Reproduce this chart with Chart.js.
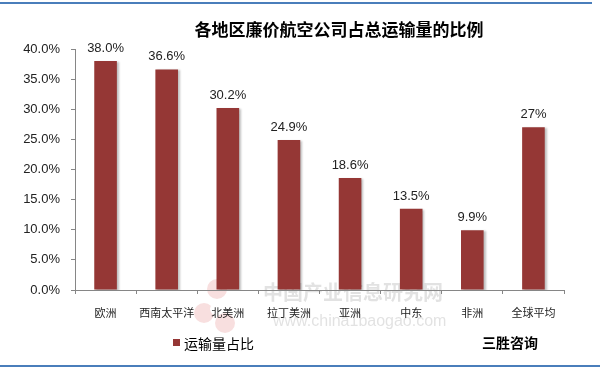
<!DOCTYPE html>
<html>
<head>
<meta charset="utf-8">
<script src="https://cdn.jsdelivr.net/npm/chart.js@4"></script>
<style>
  body { margin: 0; background: #fff; }
  #wrap { width: 600px; height: 371px; }
</style>
</head>
<body>
<div id="wrap"><canvas id="stage" width="600" height="371"></canvas></div>
<script>
// 各地区
const regions = ['欧洲', '西南太平洋', '北美洲', '拉丁美洲', '亚洲', '中东', '非洲', '全球平均'];
// 运输量占比 (%)
const shares = [38.0, 36.6, 30.2, 24.9, 18.6, 13.5, 9.9, 27];
const shareLabels = ['38.0%', '36.6%', '30.2%', '24.9%', '18.6%', '13.5%', '9.9%', '27%'];
const yTicks = [0, 5, 10, 15, 20, 25, 30, 35, 40];

const titleText = '各地区廉价航空公司占总运输量的比例';
const legendText = '运输量占比';
const sourceText = '三胜咨询';

const barColor = '#953735';
const latin = "'Liberation Sans', Arial, 'Noto Sans CJK SC', sans-serif";
const cjk = "'Noto Sans CJK SC', sans-serif";

// 枠・タイトル・凡例など
const decor = {
  id: 'decor',
  beforeDraw(chart) {
    const ctx = chart.ctx;
    ctx.save();
    ctx.fillStyle = '#fff';
    ctx.fillRect(0, 0, chart.width, chart.height);
    // blue rules
    ctx.fillStyle = '#4a7ebb';
    ctx.fillRect(0, 2, 592, 2);
    ctx.fillRect(0, 365, 600, 2);
    // watermark
    ctx.fillStyle = 'rgba(225,110,110,0.22)';
    [[217, 289, 10], [204, 313, 10], [225, 323, 10]].forEach(c => {
      ctx.beginPath(); ctx.arc(c[0], c[1], c[2], 0, Math.PI * 2); ctx.fill();
    });
    ctx.fillStyle = '#fff';
    ctx.beginPath(); ctx.arc(216, 309, 6, 0, Math.PI * 2); ctx.fill();
    ctx.fillStyle = 'rgba(150,150,150,0.28)';
    ctx.font = 'bold 20px ' + cjk;
    ctx.textAlign = 'left';
    ctx.textBaseline = 'middle';
    ctx.fillText('中国产业信息研究网', 263, 292);
    ctx.font = '16px ' + latin;
    ctx.fillText('www.china1baogao.com', 273, 322);
    ctx.restore();
  },
  beforeDatasetsDraw(chart) {
    const ctx = chart.ctx;
    ctx.save();
    ctx.shadowColor = 'rgba(0,0,0,0.25)';
    ctx.shadowOffsetX = 2;
    ctx.shadowOffsetY = 1;
    ctx.shadowBlur = 2;
  },
  afterDatasetsDraw(chart) {
    const ctx = chart.ctx;
    ctx.restore();
    ctx.save();
    // 数値ラベル
    ctx.fillStyle = '#222';
    ctx.font = '13px ' + latin;
    ctx.textAlign = 'center';
    ctx.textBaseline = 'alphabetic';
    chart.getDatasetMeta(0).data.forEach((bar, i) => {
      ctx.fillText(shareLabels[i], bar.x, bar.y - 9);
    });
    // title
    ctx.fillStyle = '#000';
    ctx.font = 'bold 17px ' + cjk;
    ctx.textBaseline = 'middle';
    ctx.fillText(titleText, 339, 30);
    // legend
    ctx.fillStyle = barColor;
    ctx.fillRect(173, 339, 7, 7);
    ctx.fillStyle = '#000';
    ctx.font = '14px ' + cjk;
    ctx.textAlign = 'left';
    ctx.fillText(legendText, 184, 344);
    ctx.font = 'bold 14px ' + cjk;
    ctx.fillText(sourceText, 482, 343);
    ctx.restore();
  }
};

new Chart(document.getElementById('stage'), {
  type: 'bar',
  data: {
    labels: regions,
    datasets: [{
      label: legendText,
      data: shares,
      backgroundColor: barColor,
      borderWidth: 0,
      barPercentage: 0.37,
      categoryPercentage: 1
    }]
  },
  options: {
    responsive: false,
    animation: false,
    layout: { padding: { top: 49, right: 36, left: 0, bottom: 0 } },
    plugins: {
      legend: { display: false },
      title: { display: false },
      tooltip: { enabled: false }
    },
    scales: {
      x: {
        afterFit: s => { s.height = 81; },
        border: { color: '#868686', width: 1 },
        grid: { drawOnChartArea: false, drawTicks: true, tickLength: 4, color: '#868686', offset: true },
        ticks: { color: '#222', font: { family: cjk, size: 11 }, padding: 12, maxRotation: 0, autoSkip: false }
      },
      y: {
        min: 0,
        max: 40,
        afterFit: s => { s.width = 75; },
        afterBuildTicks: s => { s.ticks = yTicks.map(v => ({ value: v })); },
        border: { color: '#868686', width: 1 },
        grid: { drawOnChartArea: false, drawTicks: true, tickLength: 4, color: '#868686' },
        ticks: {
          color: '#222',
          font: { family: latin, size: 13 },
          padding: 11,
          callback: v => v.toFixed(1) + '%'
        }
      }
    }
  },
  plugins: [decor]
});
</script>
</body>
</html>
